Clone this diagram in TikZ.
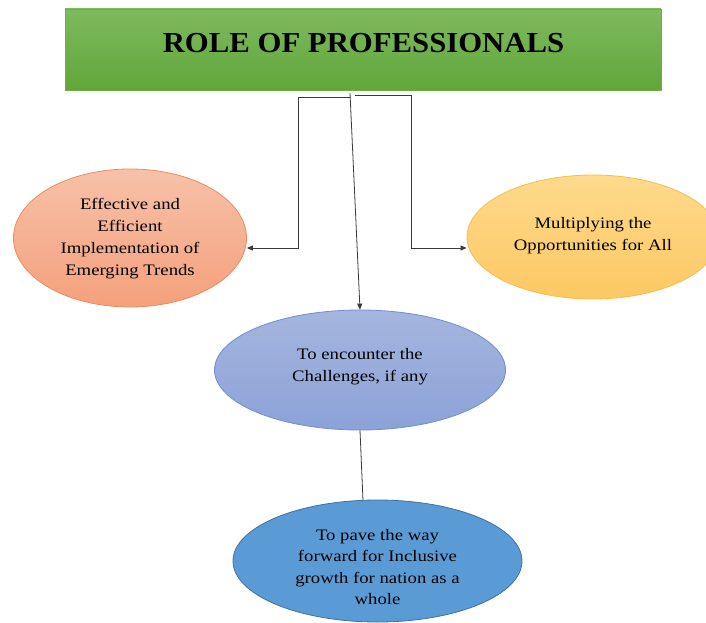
\documentclass[tikz,border=0pt]{standalone}
\usepackage{fontspec}
\setmainfont{Liberation Serif}[FakeStretch=1.17]
\newfontfamily\titlefont{Liberation Serif}[FakeStretch=1.06]
\usetikzlibrary{shapes.geometric,arrows.meta}
\definecolor{lineg}{HTML}{3A3A3A}
\tikzset{
  bubble/.style={ellipse, inner sep=0pt, line width=0.8pt},
  conn/.style={draw=lineg, line width=0.8pt},
  tip/.style={-{Triangle[length=6pt,width=5pt]}},
  lbl/.style={align=center, font=\fontsize{16}{22}\selectfont, inner sep=0pt}
}
\begin{document}
\begin{tikzpicture}[x=1pt,y=-1pt]
\useasboundingbox (0,0) rectangle (706,623);
\clip (0,0) rectangle (706,623);
% title
\node[rectangle, minimum width=596pt, minimum height=81pt, inner sep=0pt,
  top color={rgb,255:red,125;green,186;blue,94}, bottom color={rgb,255:red,98;green,166;blue,58},
  draw={rgb,255:red,112;green,173;blue,71}, line width=0.6pt] (title) at (363,49.5) {};
\node[font=\titlefont\fontsize{29}{32}\selectfont\bfseries, inner sep=0pt] (ttext) at (363.5,43) {ROLE OF PROFESSIONALS};
% ellipses
\node[bubble, minimum width=233pt, minimum height=138pt,
  top color={rgb,255:red,247;green,193;blue,169}, bottom color={rgb,255:red,244;green,160;blue,124},
  draw={rgb,255:red,233;green,140;blue,96}] (left) at (130,238) {};
\node[lbl] (lefttext) at (130,239) {Effective and\\Efficient\\Implementation of\\Emerging Trends};
\node[bubble, minimum width=252pt, minimum height=124pt,
  top color={rgb,255:red,254;green,218;blue,140}, bottom color={rgb,255:red,253;green,200;blue,100},
  draw={rgb,255:red,245;green,190;blue,80}] (right) at (593,237) {};
\node[lbl] (righttext) at (593,236) {Multiplying the\\Opportunities for All};
\node[bubble, minimum width=291pt, minimum height=120pt,
  top color={rgb,255:red,165;green,181;blue,222}, bottom color={rgb,255:red,140;green,162;blue,216},
  draw={rgb,255:red,112;green,142;blue,206}] (mid) at (360,370) {};
\node[lbl] (midtext) at (360,367) {To encounter the\\Challenges, if any};
\node[bubble, minimum width=289pt, minimum height=122pt,
  fill={rgb,255:red,91;green,155;blue,213},
  draw={rgb,255:red,65;green,113;blue,156}] (bot) at (377.5,561) {};
\node[lbl, font=\fontsize{16}{21.3}\selectfont] (bottext) at (377.5,567) {To pave the way\\forward for Inclusive\\growth for nation as a\\whole};
% connectors
\coordinate (ls) at (350,97);
\coordinate (lc) at (298,97);
\coordinate (ld) at (298,248);
\coordinate (rs) at (355,95);
\coordinate (rc) at (411,95);
\coordinate (rd) at (411,248);
\coordinate (ms) at (350,93);
\coordinate (bt) at (363,500.6);
\draw[conn, tip] (ls) -- (lc) -- (ld) -- (left.east |- ld);
\draw[conn, tip] (rs) -- (rc) -- (rd) -- (right.west |- rd);
\draw[conn, tip] (ms) -- (mid.north);
\draw[conn] (mid.south) -- (bt);
\end{tikzpicture}
\end{document}
